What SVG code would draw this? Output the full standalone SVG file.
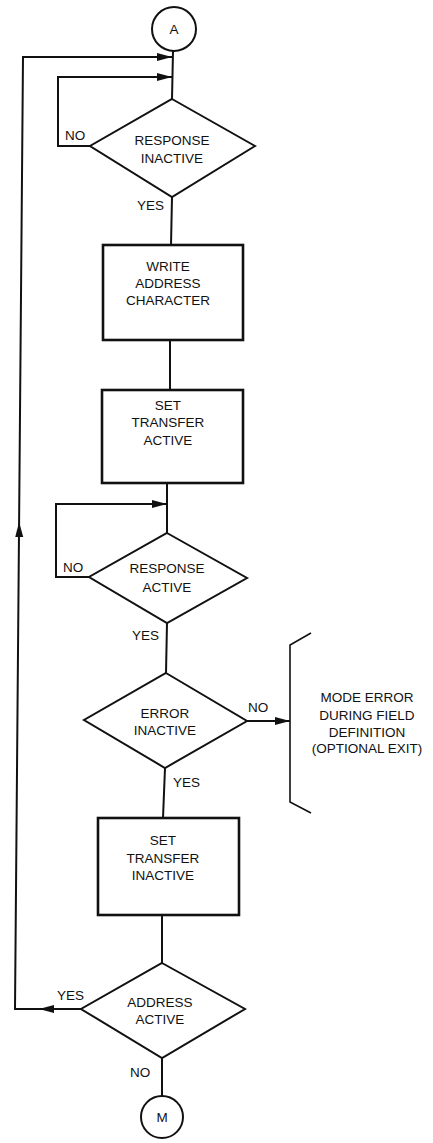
<svg xmlns="http://www.w3.org/2000/svg" xmlns:xlink="http://www.w3.org/1999/xlink" width="433" height="1143" viewBox="0 0 433 1143">
<style>
  .shape { fill: #fff; stroke: #111; stroke-width: 2; }
  .box { fill: #fff; stroke: #111; stroke-width: 2.6; }
  .conn { fill: none; stroke: #111; stroke-width: 2; }
  .thin { fill: none; stroke: #111; stroke-width: 1.6; }
  text { font-family: "Liberation Sans", Arial, sans-serif; font-size: 13.5px; fill: #111; }
  .c { text-anchor: middle; }
</style>
<defs>
  <marker id="arr" markerUnits="userSpaceOnUse" markerWidth="16" markerHeight="10" refX="15" refY="4.5" orient="auto">
    <path d="M0,0.5 L15,4.5 L0,8.5 Z" fill="#111"/>
  </marker>
  <path id="ah" d="M0,0 L-15,-4 L-15,4 Z" fill="#111"/>
</defs>

<g id="connectors">
  <path class="conn" d="M173,51 L172,99"/>
  <path class="conn" d="M81,1009 L15,1009 L23,57 L172,57" marker-end="url(#arr)"/>
  <use xlink:href="#ah" transform="translate(39,1009) rotate(180)"/>
  <use xlink:href="#ah" transform="translate(19.1,522) rotate(-90.5)"/>
  <path class="conn" d="M90,146 L58,146 L58,77 L172,77" marker-end="url(#arr)"/>
  <path class="conn" d="M172,197 L171,245"/>
  <path class="conn" d="M170,340 L170,390"/>
  <path class="conn" d="M167,483 L167,533"/>
  <path class="conn" d="M89,577 L56,577 L56,504 L167,504" marker-end="url(#arr)"/>
  <path class="conn" d="M167,623 L166,673"/>
  <path class="conn" d="M247,721 L290,721" marker-end="url(#arr)"/>
  <path class="conn" d="M165,768 L163,818"/>
  <path class="conn" d="M162,915 L162,963"/>
  <path class="conn" d="M162,1058 L162,1096"/>
</g>

<g id="startA">
  <circle class="shape" cx="174" cy="29" r="22"/>
  <text class="c" x="174" y="34">A</text>
</g>

<g id="d1">
  <polygon class="shape" points="172,99 255,146 172,197 90,146"/>
  <text class="c" x="172" y="145">RESPONSE</text>
  <text class="c" x="172" y="163">INACTIVE</text>
  <text x="65" y="140">NO</text>
  <text x="137" y="210">YES</text>
</g>

<g id="b1">
  <rect class="box" x="103" y="245" width="140" height="95"/>
  <text class="c" x="168" y="271">WRITE</text>
  <text class="c" x="168" y="288">ADDRESS</text>
  <text class="c" x="168" y="305">CHARACTER</text>
</g>

<g id="b2">
  <rect class="box" x="102" y="390" width="141" height="93"/>
  <text class="c" x="168" y="410">SET</text>
  <text class="c" x="168" y="427">TRANSFER</text>
  <text class="c" x="168" y="445">ACTIVE</text>
</g>

<g id="d2">
  <polygon class="shape" points="167,533 247,578 167,623 89,577"/>
  <text class="c" x="167" y="573">RESPONSE</text>
  <text class="c" x="167" y="592">ACTIVE</text>
  <text x="63" y="572">NO</text>
  <text x="132" y="640">YES</text>
</g>

<g id="d3">
  <polygon class="shape" points="166,673 247,721 165,768 84,720"/>
  <text class="c" x="165" y="718">ERROR</text>
  <text class="c" x="165" y="735">INACTIVE</text>
  <text x="248" y="712">NO</text>
  <text x="173" y="787">YES</text>
</g>

<g id="exit">
  <path class="thin" d="M311,633 L290,645 L290,802 L311,813"/>
  <text class="c" x="367" y="702">MODE ERROR</text>
  <text class="c" x="367" y="720">DURING FIELD</text>
  <text class="c" x="367" y="737">DEFINITION</text>
  <text class="c" x="367" y="753">(OPTIONAL EXIT)</text>
</g>

<g id="b3">
  <rect class="box" x="98" y="818" width="141" height="97"/>
  <text class="c" x="163" y="845">SET</text>
  <text class="c" x="163" y="863">TRANSFER</text>
  <text class="c" x="163" y="880">INACTIVE</text>
</g>

<g id="d4">
  <polygon class="shape" points="162,963 245,1009 162,1058 81,1009"/>
  <text class="c" x="160" y="1007">ADDRESS</text>
  <text class="c" x="160" y="1024">ACTIVE</text>
  <text x="57" y="1000">YES</text>
  <text x="130" y="1077">NO</text>
</g>

<g id="endM">
  <circle class="shape" cx="162" cy="1117" r="21"/>
  <text class="c" x="162" y="1122">M</text>
</g>
</svg>
